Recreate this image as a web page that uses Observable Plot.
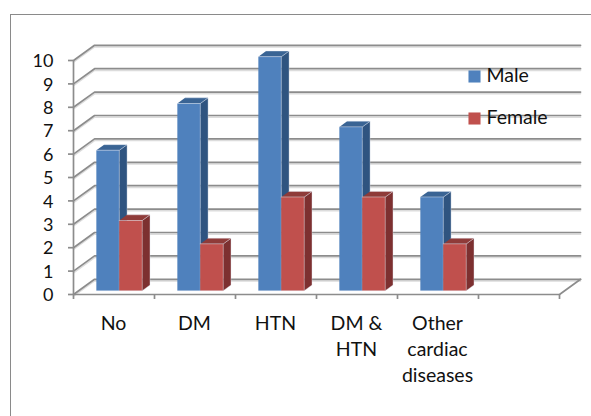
<!DOCTYPE html>
<html>
<head>
<meta charset="utf-8">
<script src="https://cdn.jsdelivr.net/npm/d3@7"></script>
<script src="https://cdn.jsdelivr.net/npm/@observablehq/plot@0.6"></script>
<style>
  html, body { margin: 0; padding: 0; background: #fff; }
  #chart { position: relative; width: 591px; height: 416px; overflow: hidden; }
  #chart svg { position: absolute; left: 0; top: 0; display: block; overflow: visible; }
  #border { position: absolute; left: 10px; top: 13.5px; right: -4px; bottom: -4px; border: 1.6px solid #8a8a8a; box-sizing: border-box; }
</style>
</head>
<body>
<div id="chart"><div id="border"></div></div>
<script>
const categories = ["No", "DM", "HTN", "DM &\nHTN", "Other\ncardiac\ndiseases"];
const male = [6, 8, 10, 7, 4];
const female = [3, 2, 4, 4, 2];
const yTicks = [0, 1, 2, 3, 4, 5, 6, 7, 8, 9, 10];
const bandCount = 6;

const colors = {
  Male: { front: "#4f81bd", side: "#2f5480", top: "#3a6494" },
  Female: { front: "#c0504d", side: "#7d3030", top: "#8f3b39" }
};

// oblique projection, in data units: depth 1 = back wall
const wallDx = 0.26, wallDy = 0.65;
const project = (x, y, d) => ({ x: x + d * wallDx, y: y + d * wallDy });
const d0 = 0.25, d1 = 0.62;         // bar depth range
const gap = 0.217, barW = 0.283;

function faces(values, offset) {
  const out = { front: [], side: [], top: [] };
  values.forEach((v, i) => {
    const x0 = i + gap + offset * barW, x1 = x0 + barW;
    const push = (f, pts) => pts.forEach(([x, y, d]) => out[f].push({ id: i, ...project(x, y, d) }));
    push("front", [[x0, 0, d0], [x1, 0, d0], [x1, v, d0], [x0, v, d0]]);
    push("side", [[x1, 0, d0], [x1, 0, d1], [x1, v, d1], [x1, v, d0]]);
    push("top", [[x0, v, d0], [x1, v, d0], [x1, v, d1], [x0, v, d1]]);
  });
  return out;
}

const grid = yTicks.map(v => [project(0, v, 0), project(0, v, 1), project(bandCount, v, 1)]
  .map(p => ({ ...p, v }))).flat();
const floorEdge = [project(bandCount, 0, 1), project(bandCount, 0, 0)];

const barMarks = (name, values, offset) => {
  const f = faces(values, offset);
  return ["side", "top", "front"].map(k =>
    Plot.line(f[k], { x: "x", y: "y", z: "id", fill: colors[name][k], stroke: "#dfe6f0", strokeOpacity: 0.45, strokeWidth: 0.8 }));
};

const base = { stroke: "#8c8c8c", strokeWidth: 1.7 };
const shadow = { stroke: "#dcdcdc", strokeWidth: 1.5, dy: 1.7 };
const font = { fontSize: 19.5, fontFamily: "Lato, Carlito, sans-serif", fill: "#111" };
const mL = 73, mT = 60;

const chart = Plot.plot({
  width: 591,
  height: 416,
  marginLeft: mL,
  marginRight: 32,
  marginTop: mT,
  marginBottom: 122,
  style: { background: "transparent" },
  x: { domain: [0, bandCount], axis: null },
  y: { domain: [0, 10], axis: null },
  marks: [
    Plot.line(grid, { x: "x", y: "y", z: "v", ...shadow }),
    Plot.line(grid, { x: "x", y: "y", z: "v", ...base }),
    Plot.line(floorEdge, { x: "x", y: "y", ...base }),
    Plot.ruleX([0], { y1: 0, y2: 10, ...base }),
    Plot.ruleY([0], { x1: 0, x2: bandCount, ...base }),
    Plot.ruleX(d3.range(0, bandCount + 1), { y1: 0, y2: 0, insetBottom: -5, ...base }),
    Plot.ruleY(yTicks, { x1: 0, x2: 0, insetLeft: -5, ...base }),
    ...barMarks("Male", male, 0),
    ...barMarks("Female", female, 1),
    Plot.text(yTicks, { x: 0, y: d => d, text: d => String(d), textAnchor: "end", dx: -20, dy: 1, ...font, fontSize: 18 }),
    Plot.text(categories, { x: (d, i) => i + 0.5, y: 0, text: d => d, lineAnchor: "top", dy: 17, dx: -0.5, lineHeight: 1.33, ...font }),
    Plot.text(["Male"], { frameAnchor: "top-left", dx: 486 - mL, dy: 75 - mT, textAnchor: "start", lineAnchor: "middle", ...font }),
    Plot.text(["Female"], { frameAnchor: "top-left", dx: 486 - mL, dy: 117 - mT, textAnchor: "start", lineAnchor: "middle", ...font }),
    Plot.dot(["Male"], { frameAnchor: "top-left", dx: 474 - mL, dy: 76 - mT, symbol: "square", r: 6.8, fill: colors.Male.front }),
    Plot.dot(["Female"], { frameAnchor: "top-left", dx: 474 - mL, dy: 118 - mT, symbol: "square", r: 6.8, fill: colors.Female.front })
  ]
});
document.getElementById("chart").appendChild(chart);
</script>
</body>
</html>
